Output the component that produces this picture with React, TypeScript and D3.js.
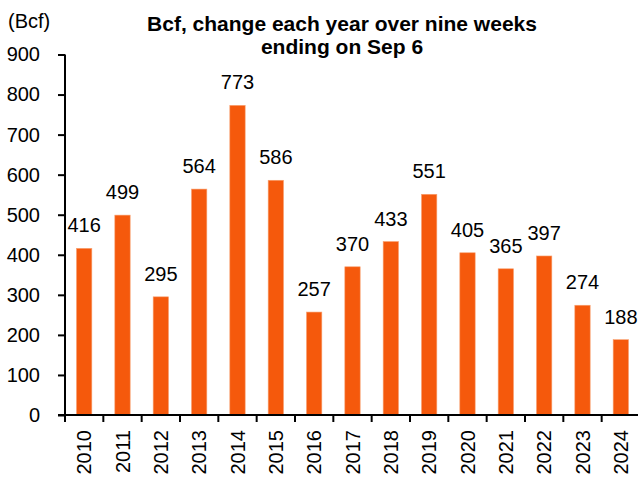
import React, { useEffect, useRef } from 'react';
import * as d3 from 'd3';

const years = ['2010', '2011', '2012', '2013', '2014', '2015', '2016', '2017', '2018', '2019', '2020', '2021', '2022', '2023', '2024'];
const values = [416, 499, 295, 564, 773, 586, 257, 370, 433, 551, 405, 365, 397, 274, 188];
const yTicks = [0, 100, 200, 300, 400, 500, 600, 700, 800, 900];
const titleLines = ['Bcf, change each year over nine weeks', 'ending on Sep 6'];

const App = () => {
  const svgRef = useRef<SVGSVGElement>(null);

  useEffect(() => {
    const svg = d3.select(svgRef.current);
    svg.selectAll('*').remove();

    const font = 'Arial, "Liberation Sans", sans-serif';
    const left = 65;
    const right = 640;
    const top = 54.5;
    const bottom = 415;

    const x = d3.scaleBand()
      .domain(years)
      .range([left, right])
      .paddingInner(0.6)
      .paddingOuter(0.3);

    const y = d3.scaleLinear()
      .domain([0, 900])
      .range([bottom, top]);

    // bars
    svg.append('g')
      .selectAll('rect')
      .data(values)
      .enter()
      .append('rect')
      .attr('x', (d, i) => x(years[i]))
      .attr('y', d => y(d))
      .attr('width', x.bandwidth())
      .attr('height', d => bottom - y(d))
      .attr('fill', '#F5590C')
      .attr('stroke', '#F8A070')
      .attr('stroke-width', 0.6);

    // value labels
    svg.append('g')
      .selectAll('text')
      .data(values)
      .enter()
      .append('text')
      .attr('x', (d, i) => x(years[i]) + x.bandwidth() / 2)
      .attr('y', d => y(d) - 16)
      .attr('text-anchor', 'middle')
      .attr('font-family', font)
      .attr('font-size', 20)
      .attr('fill', '#000')
      .text(d => d);

    // y axis
    const yAxis = svg.append('g')
      .attr('transform', `translate(${left},0)`)
      .call(d3.axisLeft(y).tickValues(yTicks).tickSize(7).tickPadding(18));
    yAxis.select('.domain').attr('stroke', '#000').attr('stroke-width', 2)
      .attr('d', `M0,${top}V${bottom}`);
    yAxis.selectAll('.tick line').attr('stroke', '#000').attr('stroke-width', 2);
    yAxis.selectAll('.tick text')
      .attr('font-family', font)
      .attr('font-size', 20)
      .attr('fill', '#000');

    // x axis: ticks at band boundaries
    const step = x.step();
    const xAxis = svg.append('g').attr('transform', `translate(0,${bottom})`);
    xAxis.append('line')
      .attr('x1', left - 7)
      .attr('x2', right)
      .attr('stroke', '#000')
      .attr('stroke-width', 2);
    xAxis.selectAll('line.tk')
      .data(d3.range(years.length))
      .enter()
      .append('line')
      .attr('class', 'tk')
      .attr('x1', i => x(years[i]) - step * 0.3)
      .attr('x2', i => x(years[i]) - step * 0.3)
      .attr('y1', 0)
      .attr('y2', 7)
      .attr('stroke', '#000')
      .attr('stroke-width', 2);
    xAxis.selectAll('text')
      .data(years)
      .enter()
      .append('text')
      .attr('transform', d => `translate(${x(d) + x.bandwidth() / 2 + 7},15) rotate(-90)`)
      .attr('text-anchor', 'end')
      .attr('font-family', font)
      .attr('font-size', 20)
      .attr('fill', '#000')
      .text(d => d);

    // unit label
    svg.append('text')
      .attr('x', 8)
      .attr('y', 28)
      .attr('font-family', font)
      .attr('font-size', 20)
      .attr('fill', '#000')
      .text('(Bcf)');

    // title
    svg.append('g')
      .selectAll('text')
      .data(titleLines)
      .enter()
      .append('text')
      .attr('x', 342)
      .attr('y', (d, i) => 31 + i * 23)
      .attr('text-anchor', 'middle')
      .attr('font-family', font)
      .attr('font-size', 21)
      .attr('font-weight', 'bold')
      .attr('fill', '#000')
      .text(d => d);
  }, []);

  return (
    <div style={{ position: 'absolute', left: 0, top: 0 }}>
      <svg ref={svgRef} width={638} height={479} style={{ display: 'block', background: '#fff' }}></svg>
    </div>
  );
};

export default App;
